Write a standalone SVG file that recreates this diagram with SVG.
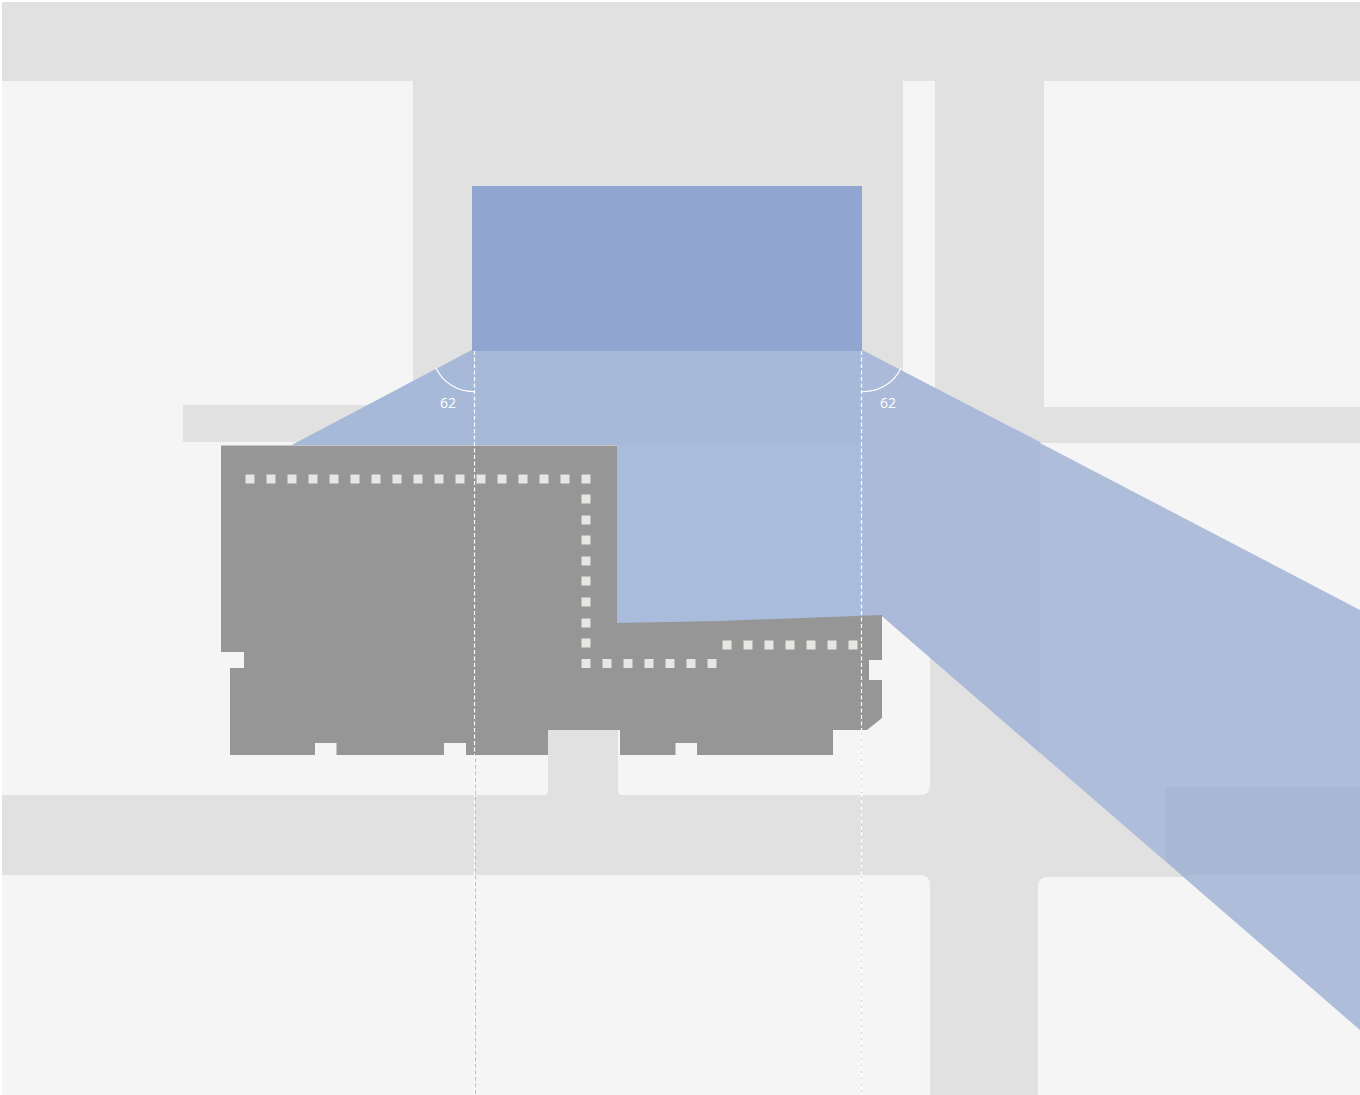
<svg xmlns="http://www.w3.org/2000/svg" width="1360" height="1095" viewBox="0 0 1360 1095">
<style>
.block{fill:#f5f5f5}
.dash{fill:none;stroke:#fff;stroke-width:1.200;stroke-dasharray:4 2.500}
.dashg{fill:none;stroke:#bdbdbd;stroke-width:1;stroke-dasharray:4 2.500}
.arc{fill:none;stroke:#fff;stroke-width:1.200}
.lbl{font-family:"Open Sans","Liberation Sans",sans-serif;font-size:14px;fill:#fff;text-anchor:middle}
.dot{fill:#e6e6e2}
</style>
<defs><rect id="d" class="dot" x="-4.500" y="-4.500" width="9" height="9"/></defs>
<rect id="paper" width="1360" height="1095" fill="#fff"/>
<rect id="ground" x="2" y="2" width="1358" height="1093" fill="#e1e1e1"/>
<g id="blocks">
<path class="block" d="M2 81H413V405H183V442H920Q930 442 930 452V785Q930 795 920 795H622Q618 795 618 791V730H548V791Q548 795 544 795H2Z"/>
<rect class="block" x="903" y="81" width="32" height="330"/>
<path class="block" d="M1044 81H1360V407H1044Z"/>
<rect class="block" x="1040" y="443" width="320" height="180"/>
<path class="block" d="M2 875H920Q930 875 930 885V1095H2Z"/>
<path class="block" d="M1048 877H1360V1095H1038V887Q1038 877 1048 877Z"/>
</g>
<g id="sight-cone">
<path fill="#adbdda" d="M472 350H862L1360 610V1030L882 616L617 630V445H292Z"/>
<path fill="#a7b9d8" d="M472 350H862V445H292Z"/>
<path fill="#a9bcdb" d="M617 445H862V630H617Z"/>
<path fill="#aabad8" d="M862 350L1040 442V753L882 616H862Z"/>
<path fill="#a7b7d4" d="M1166 787H1360V875H1183L1166 860Z"/>
<rect x="472" y="186" width="390" height="165" fill="#90a6d0"/>
</g>
<g id="building">
<path fill="#969696" d="M221 445.500H617V623L720 621L882 615V660H869V680H882V718L867 730H833V755H697V743H675.500V755H620V730H548V755H466V743H444V755H336.500V743H315V755H230V668H244V652H221Z"/>
</g>
<g id="columns">
<use href="#d" x="250" y="479"/><use href="#d" x="271" y="479"/><use href="#d" x="292" y="479"/><use href="#d" x="313" y="479"/><use href="#d" x="334" y="479"/><use href="#d" x="355" y="479"/><use href="#d" x="376" y="479"/><use href="#d" x="397" y="479"/><use href="#d" x="418" y="479"/><use href="#d" x="439" y="479"/><use href="#d" x="460" y="479"/><use href="#d" x="481" y="479"/><use href="#d" x="502" y="479"/><use href="#d" x="523" y="479"/><use href="#d" x="544" y="479"/><use href="#d" x="565" y="479"/><use href="#d" x="586" y="479"/>
<use href="#d" x="586" y="499"/><use href="#d" x="586" y="520"/><use href="#d" x="586" y="540"/><use href="#d" x="586" y="561"/><use href="#d" x="586" y="581"/><use href="#d" x="586" y="602"/><use href="#d" x="586" y="623"/><use href="#d" x="586" y="643"/><use href="#d" x="586" y="663.500"/>
<use href="#d" x="607" y="663.500"/><use href="#d" x="628" y="663.500"/><use href="#d" x="649" y="663.500"/><use href="#d" x="670" y="663.500"/><use href="#d" x="691" y="663.500"/><use href="#d" x="712" y="663.500"/>
<use href="#d" x="727" y="645"/><use href="#d" x="748" y="645"/><use href="#d" x="769" y="645"/><use href="#d" x="790" y="645"/><use href="#d" x="811" y="645"/><use href="#d" x="832" y="645"/><use href="#d" x="853" y="645"/>
</g>
<g id="connectors">
<path class="dashg" d="M475.500 755V1095M861.500 730V1095" stroke-dashoffset="3"/>
<path class="dash" d="M474.500 351V1095M861.500 351V1095"/>
<path class="arc" d="M436 368A41 41 0 0 0 474.500 391.500"/>
<path class="arc" d="M861.500 391.500A41 41 0 0 0 901 368"/>
</g>
<g id="labels">
<text class="lbl" x="448" y="408">62</text>
<text class="lbl" x="888" y="408">62</text>
</g>
</svg>
